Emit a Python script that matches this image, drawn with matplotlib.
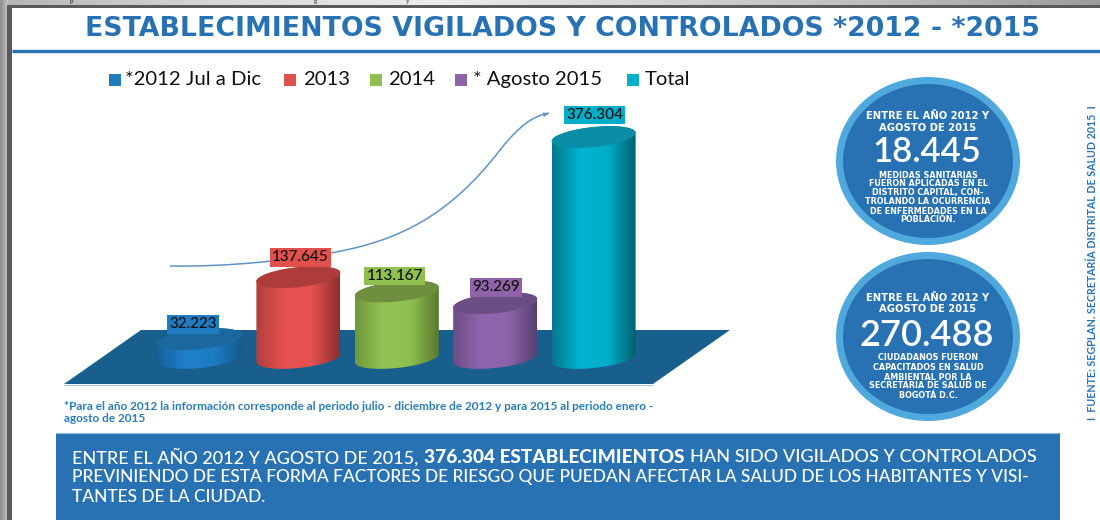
#!/usr/bin/env python3
import numpy as np
import matplotlib as mpl
mpl.use('Agg')
import matplotlib.pyplot as plt
from matplotlib.colors import LinearSegmentedColormap
from matplotlib.patches import Ellipse, Polygon, Rectangle, PathPatch
from matplotlib.path import Path

mpl.rc('font', **{'family': ['Lato', 'DejaVu Sans']})

categories = ['*2012 Jul a Dic', '2013', '2014', '* Agosto 2015', 'Total']
values = [32223, 137645, 113167, 93269, 376304]
value_labels = ['32.223', '137.645', '113.167', '93.269', '376.304']
legend_colors = ['#1f7cc0', '#e2504e', '#8fbf4f', '#8e63a8', '#05aec8']
shades = [
    ['#17619f', '#1f80c8', '#1d7cc2', '#165a92'],
    ['#b03f3d', '#e5514f', '#e5514f', '#8c302e'],
    ['#6f983c', '#93c352', '#8fbf4f', '#587a2c'],
    ['#6f4d88', '#8f66ad', '#8c64a9', '#54406e'],
    ['#07788e', '#00b4cf', '#00aec8', '#035f70'],
]
top_colors = ['#1b689f', '#ad3c3a', '#6f8f3f', '#6b4e84', '#0a8ea6']

title = 'ESTABLECIMIENTOS VIGILADOS Y CONTROLADOS *2012 - *2015'
footnote = ['*Para el año 2012 la información corresponde al periodo julio - diciembre de 2012 y para 2015 al periodo enero -',
            'agosto de 2015']
circle_head = ['ENTRE EL AÑO 2012 Y', 'AGOSTO DE 2015']
circle1_num = '18.445'
circle1_text = ['MEDIDAS SANITARIAS', 'FUERON APLICADAS EN EL', 'DISTRITO CAPITAL, CON-',
                'TROLANDO LA OCURRENCIA', 'DE ENFERMEDADES EN LA', 'POBLACIÓN.']
circle2_num = '270.488'
circle2_text = ['CIUDADANOS FUERON', 'CAPACITADOS EN SALUD', 'AMBIENTAL POR LA',
                'SECRETARIA DE SALUD DE', 'BOGOTÁ D.C.']
source = 'I  FUENTE: SEGPLAN. SECRETARÍA DISTRITAL DE SALUD 2015  I'

BLUE = '#2872b3'
RING = '#4fa9dd'

fig = plt.figure(figsize=(11, 5.2), dpi=100)
bg = fig.add_axes([0, 0, 1, 1])
bg.set_xlim(0, 1100)
bg.set_ylim(520, 0)
bg.axis('off')

# grey page behind the panel
strip = LinearSegmentedColormap.from_list('strip', ['#b4b4b4', '#d8d8d8', '#ececec', '#d2d2d2', '#bdbdbd', '#9c9c9c'])
bg.imshow(np.linspace(0, 1, 256)[None, :], extent=(0, 1100, 6, 0), cmap=strip, aspect='auto', zorder=0)
bg.imshow(np.linspace(0, 1, 16)[None, :], extent=(0, 8, 520, 0), aspect='auto', zorder=0,
          cmap=LinearSegmentedColormap.from_list('side', ['#8c8c8c', '#c4c4c4']))
bg.add_patch(Rectangle((7, 5), 1093, 515, fc='#5a5a5a', ec='none', zorder=1))
bg.add_patch(Rectangle((12, 8), 1088, 512, fc='white', ec='none', zorder=2))
bg.set_xlim(0, 1100)
bg.set_ylim(520, 0)

# the line of the page above, only a few letters reach into this crop
for cx, ch in [(72, 'p'), (315, 'g'), (408, 'y')]:
    bg.text(cx, 2.6, ch, family='Liberation Serif', fontsize=5, color='#222222', ha='center', va='baseline', zorder=1)

bg.text(562.5, 29.5, title, color=BLUE, fontsize=19.3, fontweight='bold', family='DejaVu Sans',
        ha='center', va='center', zorder=3)
bg.plot([12, 1100], [50.5, 50.5], color=BLUE, lw=2.4, zorder=3, solid_capstyle='butt')

# legend
swatch_x = [109, 284, 370, 455, 627]
label_x = [125, 303, 388, 473, 645]
for sx, lx, name, col in zip(swatch_x, label_x, categories, legend_colors):
    bg.add_patch(Rectangle((sx, 74), 11.5, 11.5, fc=col, ec='none', zorder=3))
    bg.text(lx, 79.5, name, fontsize=14.6, color='#111111', ha='left', va='center', zorder=3)

# floor of the 3d chart
bg.add_patch(Polygon([(64, 384), (653, 384), (730, 330), (141, 330)], closed=True, fc='#195f8e', ec='none', zorder=3))
bg.plot([64, 653], [384.5, 384.5], color='#a9c7dc', lw=0.8, zorder=3)

# chart axes, mapped so category spacing and value scale fit the picture
px_left, px_right, px_top, px_bot = 100, 700, 90, 400
base_px, px_per_unit = 358, 221 / 376304
x0_px, dx_px = 200, 98.4
ax = fig.add_axes([px_left / 1100, 1 - px_bot / 520, (px_right - px_left) / 1100, (px_bot - px_top) / 520])
ax.patch.set_alpha(0)
ax.axis('off')
xlim = ((px_left - x0_px) / dx_px, (px_right - x0_px) / dx_px)
ylim = ((base_px - px_bot) / px_per_unit, (base_px - px_top) / px_per_unit)

half_w = 42 / dx_px
semi_b = 10 / px_per_unit
skew = 4.2 / px_per_unit


def rim(cx, level, t):
    # skewed ellipse, right hand side sits higher
    return cx + half_w * np.cos(t), level + semi_b * np.sin(t) + skew * np.cos(t)


label_dx = [-7, 2, -2, 1, 1]
label_dy = [15, 20, 15.5, 16, 22]

for i, val in enumerate(values):
    t_low = np.linspace(np.pi, 2 * np.pi, 60)
    t_up = np.linspace(0, np.pi, 60)
    xb, yb = rim(i, 0, t_low)
    xt, yt = rim(i, val, t_up)
    body = Polygon(np.column_stack([np.r_[xb, xt], np.r_[yb, yt]]), closed=True, fc='none', ec='none', zorder=2)
    ax.add_patch(body)
    cmap = LinearSegmentedColormap.from_list('bar%d' % i, shades[i])
    grad = ax.imshow(np.linspace(0, 1, 128)[None, :], extent=(i - half_w, i + half_w, -semi_b * 2, val + semi_b * 2),
                     cmap=cmap, aspect='auto', zorder=3)
    grad.set_clip_path(body)
    xe, ye = rim(i, val, np.linspace(0, 2 * np.pi, 120))
    ax.fill(xe, ye, color=top_colors[i], lw=0, zorder=4)
    ax.annotate(value_labels[i], (i, val), xytext=(label_dx[i] * 0.72, label_dy[i] * 0.72),
                textcoords='offset points', ha='center', va='center', fontsize=11, fontweight='medium',
                color='#111111', zorder=6, bbox=dict(boxstyle='square,pad=0.16', fc=legend_colors[i], ec='none'))

ax.set_xlim(*xlim)
ax.set_ylim(*ylim)

# rising arrow behind the bars
curve = Path([(170, 266), (230, 267), (290, 260), (336, 252),
              (400, 240), (450, 215), (500, 150),
              (520, 125), (533, 116), (549, 113)],
             [Path.MOVETO, Path.CURVE4, Path.CURVE4, Path.CURVE4,
              Path.CURVE4, Path.CURVE4, Path.CURVE4,
              Path.CURVE4, Path.CURVE4, Path.CURVE4])
bg.add_patch(PathPatch(curve, fc='none', ec='#5f93c4', lw=1.1, zorder=3))
bg.annotate('', xy=(551, 113), xytext=(544, 114.5),
            arrowprops=dict(arrowstyle='-|>', color='#5f93c4', lw=0.8, mutation_scale=6), zorder=3)

# footnote
bg.text(64, 406, footnote[0], fontsize=8.5, fontweight='bold', color='#2a7db5', va='center', zorder=3)
bg.text(64, 419, footnote[1], fontsize=8.5, fontweight='bold', color='#2a7db5', va='center', zorder=3)

# circles on the right
for cy, h, in [(161, 168), (336.5, 169)]:
    bg.add_patch(Ellipse((928, cy), 184, h, fc=RING, ec='none', zorder=3))
    bg.add_patch(Ellipse((928, cy), 170, h - 14, fc=BLUE, ec='none', zorder=4))


def circle_texts(head_y, head, num_y, num, num_size, body_y, body):
    for y, s in zip(head_y, head):
        bg.text(928, y, s, fontsize=7.2, fontweight='bold', family='DejaVu Sans', color='white',
                ha='center', va='center', zorder=5)
    bg.text(927, num_y, num, fontsize=num_size, color='white', fontweight='semibold', ha='center', va='center', zorder=5)
    for y, s in zip(body_y, body):
        bg.text(928, y, s, fontsize=5.8, fontweight='bold', family='DejaVu Sans', color='white',
                ha='center', va='center', zorder=5)


circle_texts([116, 128], circle_head, 152, circle1_num, 25, [175, 184, 193, 202, 211, 220], circle1_text)
circle_texts([298, 309], circle_head, 335, circle2_num, 26, [358, 367, 377, 386, 395], circle2_text)

bg.text(1092, 262.5, source, rotation=90, fontsize=7.7, fontweight='bold', color=BLUE,
        ha='center', va='center', zorder=3)

# bottom box
bg.add_patch(Rectangle((56, 433), 1004, 87, fc=BLUE, ec='none', zorder=3))
bg.plot([56, 1060], [433, 433], color='#8ab4da', lw=0.8, zorder=3)
bg.text(72, 457.5, 'ENTRE EL AÑO 2012 Y AGOSTO DE 2015,', fontsize=13, fontweight='medium', color='white', va='center', zorder=5)
bg.text(424, 457.5, '376.304 ESTABLECIMIENTOS', fontsize=13.7, fontweight='black', color='white', va='center', zorder=5)
bg.text(690, 457.5, 'HAN SIDO VIGILADOS Y CONTROLADOS', fontsize=13.1, fontweight='medium', color='white', va='center', zorder=5)
bg.text(72, 477, 'PREVINIENDO DE ESTA FORMA FACTORES DE RIESGO QUE PUEDAN AFECTAR LA SALUD DE LOS HABITANTES Y VISI-',
        fontsize=12.5, fontweight='medium', color='white', va='center', zorder=5)
bg.text(72, 497, 'TANTES DE LA CIUDAD.', fontsize=12.5, fontweight='medium', color='white', va='center', zorder=5)

fig.savefig('out.png', dpi=100)
